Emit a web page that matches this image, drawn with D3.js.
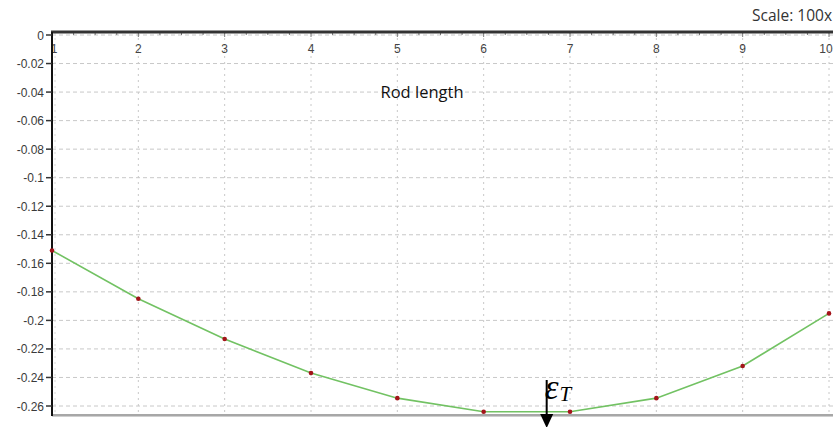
<!DOCTYPE html>
<html><head><meta charset="utf-8">
<script src="https://cdn.jsdelivr.net/npm/d3@7"></script>
<style>body{margin:0;background:#fff;overflow:hidden}svg{display:block}</style>
</head><body>
<svg id="c" width="833" height="427"></svg>
<script>
const xValues = [1,2,3,4,5,6,7,8,9,10];
const yValues = [-0.151,-0.1848,-0.213,-0.2369,-0.2545,-0.264,-0.264,-0.2545,-0.232,-0.1951];
const yTicks = [0,-0.02,-0.04,-0.06,-0.08,-0.1,-0.12,-0.14,-0.16,-0.18,-0.2,-0.22,-0.24,-0.26];
const yTickLabels = ["0","-0.02","-0.04","-0.06","-0.08","-0.1","-0.12","-0.14","-0.16","-0.18","-0.2","-0.22","-0.24","-0.26"];
const xTicks = [1,2,3,4,5,6,7,8,9,10];
const xTickLabels = ["1","2","3","4","5","6","7","8","9","10"];
const title = "Rod length";
const scaleNote = "Scale: 100x";
const annotX = 6.73;

const svg = d3.select("#c");
const x = d3.scaleLinear().domain([1,10]).range([52,829]);
const y = d3.scaleLinear().domain([0,-0.26]).range([35,406]);
const pTop = 32, pBottom = 415, pLeft = 52, pRight = 833;

// grid
svg.append("g").selectAll("line").data(yTicks).join("line")
  .attr("x1",pLeft).attr("x2",pRight).attr("y1",d=>y(d)).attr("y2",d=>y(d))
  .attr("stroke","#c8c8c8").attr("stroke-width",1).attr("stroke-dasharray","4,3");
svg.append("g").selectAll("line").data(xTicks.slice(1)).join("line")
  .attr("x1",d=>x(d)).attr("x2",d=>x(d)).attr("y1",pTop).attr("y2",pBottom)
  .attr("stroke","#c8c8c8").attr("stroke-width",1).attr("stroke-dasharray","2,4");
svg.append("line").attr("x1",pLeft+3).attr("x2",pLeft+3).attr("y1",pTop).attr("y2",pBottom)
  .attr("stroke","#d8d8d8").attr("stroke-dasharray","2,4");

// bottom line
svg.append("line").attr("x1",pLeft).attr("x2",pRight).attr("y1",pBottom).attr("y2",pBottom)
  .attr("stroke","#8a8a8a").attr("stroke-width",1.5);
svg.append("line").attr("x1",pLeft).attr("x2",pRight).attr("y1",pBottom+1.5).attr("y2",pBottom+1.5)
  .attr("stroke","#cfcfcf").attr("stroke-width",1);

// top axis
const minor = d3.range(1,10.01,0.25);
svg.append("g").selectAll("line").data(minor).join("line")
  .attr("x1",d=>x(d)).attr("x2",d=>x(d)).attr("y1",pTop).attr("y2",d=>Number.isInteger(d)?pTop+5:pTop+3)
  .attr("stroke","#777").attr("stroke-width",1);
svg.append("line").attr("x1",pLeft-1).attr("x2",pRight).attr("y1",pTop).attr("y2",pTop)
  .attr("stroke","#333").attr("stroke-width",3);
svg.append("g").selectAll("text").data(xTicks).join("text")
  .attr("x",(d,i)=>x(d)+ (i===0?2:(i===xTicks.length-1?-3:0))).attr("y",pTop+21)
  .attr("text-anchor","middle").attr("font-family","Liberation Sans, Arial, sans-serif")
  .attr("font-size",12).attr("fill","#444").text((d,i)=>xTickLabels[i]);

// left axis
svg.append("line").attr("x1",pLeft).attr("x2",pLeft).attr("y1",pTop).attr("y2",pBottom+1)
  .attr("stroke","#111").attr("stroke-width",2);
svg.append("g").selectAll("line").data(yTicks).join("line")
  .attr("x1",pLeft-6).attr("x2",pLeft).attr("y1",d=>y(d)).attr("y2",d=>y(d))
  .attr("stroke","#333").attr("stroke-width",1.5);
svg.append("g").selectAll("text").data(yTicks).join("text")
  .attr("x",pLeft-8).attr("y",d=>y(d)+4.5)
  .attr("text-anchor","end").attr("font-family","Liberation Sans, Arial, sans-serif")
  .attr("font-size",12).attr("fill","#3a3a3a").text((d,i)=>yTickLabels[i]);

// series
const data = xValues.map((v,i)=>({x:v,y:yValues[i]}));
svg.append("path").datum(data)
  .attr("d",d3.line().x(d=>x(d.x)).y(d=>y(d.y)))
  .attr("fill","none").attr("stroke","#72c263").attr("stroke-width",1.6);
svg.append("g").selectAll("circle").data(data).join("circle")
  .attr("cx",d=>x(d.x)).attr("cy",d=>y(d.y)).attr("r",2.3).attr("fill","#a3141a");

// texts
svg.append("text").attr("x",422).attr("y",98).attr("text-anchor","middle")
  .attr("font-family","Open Sans, sans-serif").attr("font-size",16.5).attr("fill","#111").text(title);
svg.append("text").attr("x",832).attr("y",21).attr("text-anchor","end")
  .attr("font-family","Open Sans, sans-serif").attr("font-size",15.5).attr("fill","#333").text(scaleNote);

// annotation arrow
const ax = x(annotX);
svg.append("line").attr("x1",ax).attr("x2",ax).attr("y1",380).attr("y2",416)
  .attr("stroke","#000").attr("stroke-width",2);
svg.append("path").attr("d",`M${ax-6.5},414 L${ax+6.5},414 L${ax},428 Z`).attr("fill","#000");
const eps = svg.append("text").attr("x",ax-2).attr("y",399)
  .attr("font-family","Liberation Serif, Times New Roman, serif").attr("font-style","italic")
  .attr("font-size",35).attr("fill","#000");
eps.append("tspan").text("ε");
eps.append("tspan").attr("font-size",21).attr("dy",2).attr("dx",1).text("T");
</script>
</body></html>
